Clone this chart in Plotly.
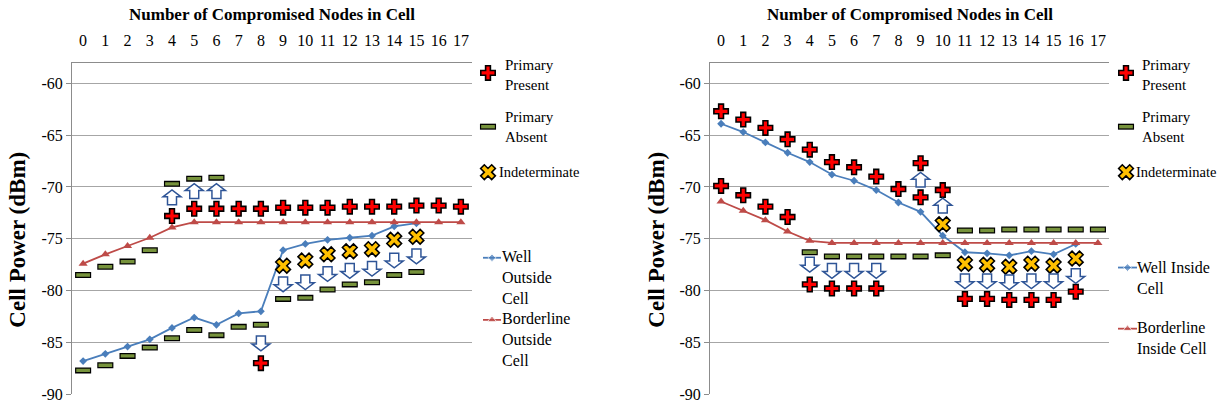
import plotly.graph_objects as go

# ---------------- data ----------------
categories = list(range(18))
tick_labels = [str(c) for c in categories]

# Left chart (outside cell)
left_well_x = [0, 1, 2, 3, 4, 5, 6, 7, 8, 9, 10, 11, 12, 13, 14, 15]
left_well_y = [-86.8, -86.1, -85.4, -84.7, -83.6, -82.6, -83.3, -82.2, -82.0,
               -76.1, -75.5, -75.1, -74.9, -74.7, -73.8, -73.5]
left_border_x = [0, 1, 2, 3, 4, 5, 6, 7, 8, 9, 10, 11, 12, 13, 14, 15, 16, 17]
left_border_y = [-77.4, -76.5, -75.7, -74.9, -73.9, -73.4, -73.4, -73.4, -73.4,
                 -73.4, -73.4, -73.4, -73.4, -73.4, -73.4, -73.4, -73.4, -73.4]
left_present_x = [4, 5, 6, 7, 8, 9, 10, 11, 12, 13, 14, 15, 16, 17, 8]
left_present_y = [-72.8, -72.1, -72.1, -72.1, -72.1, -72.0, -72.0, -72.0, -71.9,
                  -71.9, -71.9, -71.8, -71.8, -71.9, -87.0]
left_absent_x = [0, 1, 2, 3, 4, 5, 6, 0, 1, 2, 3, 4, 5, 6, 7, 8,
                 9, 10, 11, 12, 13, 14, 15]
left_absent_y = [-78.5, -77.7, -77.2, -76.1, -69.7, -69.2, -69.1,
                 -87.7, -87.2, -86.3, -85.5, -84.6, -83.8, -84.3, -83.5, -83.3,
                 -80.8, -80.7, -79.9, -79.4, -79.2, -78.5, -78.2]
left_indet_x = [9, 10, 11, 12, 13, 14, 15]
left_indet_y = [-77.6, -77.1, -76.5, -76.2, -76.0, -75.1, -74.8]
left_arrow_x = [4, 5, 6, 8, 9, 10, 11, 12, 13, 14, 15]
left_arrow_y = [-71.0, -70.4, -70.4, -85.1, -79.4, -79.2, -78.4, -78.1, -77.9, -77.1, -76.7]
left_arrow_dir = ["up", "up", "up", "down", "down", "down", "down", "down", "down", "down", "down"]

# Right chart (inside cell)
right_well_x = [0, 1, 2, 3, 4, 5, 6, 7, 8, 9, 10, 11, 12, 13, 14, 15, 16]
right_well_y = [-63.9, -64.7, -65.7, -66.7, -67.6, -68.8, -69.4, -70.3, -71.5,
                -72.4, -74.7, -76.3, -76.4, -76.6, -76.2, -76.5, -75.5]
right_border_x = [0, 1, 2, 3, 4, 5, 6, 7, 8, 9, 10, 11, 12, 13, 14, 15, 16, 17]
right_border_y = [-71.4, -72.3, -73.2, -74.3, -75.2, -75.4, -75.4, -75.4, -75.4,
                  -75.4, -75.4, -75.4, -75.4, -75.4, -75.4, -75.4, -75.4, -75.4]
right_present_x = [0, 1, 2, 3, 4, 5, 6, 7, 8, 9, 10, 9,
                   0, 1, 2, 3, 4, 5, 6, 7, 11, 12, 13, 14, 15, 16]
right_present_y = [-62.7, -63.5, -64.3, -65.4, -66.4, -67.6, -68.1, -69.0, -70.2,
                   -67.7, -70.3, -71.0,
                   -69.9, -70.8, -71.9, -72.9, -79.4, -79.8, -79.8, -79.8,
                   -80.8, -80.8, -80.9, -80.9, -80.9, -80.1]
right_absent_x = [4, 5, 6, 7, 8, 9, 10, 11, 12, 13, 14, 15, 16, 17]
right_absent_y = [-76.3, -76.7, -76.7, -76.7, -76.7, -76.7, -76.6,
                  -74.2, -74.2, -74.1, -74.1, -74.1, -74.1, -74.1]
right_indet_x = [10, 11, 12, 13, 14, 15, 16]
right_indet_y = [-73.6, -77.4, -77.5, -77.7, -77.4, -77.6, -76.9]
right_arrow_x = [9, 10, 4, 5, 6, 7, 11, 12, 13, 14, 15, 16]
right_arrow_y = [-69.3, -71.8, -77.5, -78.1, -78.1, -78.1, -79.1, -79.1, -79.2, -79.1, -79.1, -78.6]
right_arrow_dir = ["up", "up", "down", "down", "down", "down", "down", "down", "down", "down", "down", "down"]

# ---------------- style ----------------
W, H = 1228, 413
TOP, BOT = 64, 403
LX0, LX1 = 72, 472
RX0, RX1 = 710, 1109
Y_RANGE = [-90, -58]
X_RANGE = [-0.5, 17.5]
FONT = "Liberation Serif"
BLUE = "#4A7EBB"
RED_LINE = "#BE4B48"
CROSS_RED = "#FF0000"
GREEN = "#77933C"
YELLOW = "#FFC000"
ARROW_BLUE = "#2F5597"
GRID = "#A6A6A6"
AXIS = "#8C8C8C"

px_x = (LX1 - LX0) / (X_RANGE[1] - X_RANGE[0])
px_y = (BOT - TOP) / (Y_RANGE[1] - Y_RANGE[0])

fig = go.Figure()

DASH_OUT = dict(symbol="line-ew", size=11.5, line=dict(color="black", width=6))
DASH_IN = dict(symbol="line-ew", size=9.8, line=dict(color=GREEN, width=3.4))
CROSS = dict(symbol="cross", size=12, color=CROSS_RED, line=dict(color="black", width=1.6))
XMARK = dict(symbol="x", size=13, color=YELLOW, line=dict(color="black", width=1.6))


def chart(well_x, well_y, border_x, border_y, pres_x, pres_y, abs_x, abs_y,
          ind_x, ind_y, xa, ya):
    fig.add_trace(go.Scatter(x=well_x, y=well_y, mode="lines+markers", xaxis=xa, yaxis=ya,
                             line=dict(color=BLUE, width=1.8),
                             marker=dict(symbol="diamond", size=6, color=BLUE)))
    fig.add_trace(go.Scatter(x=border_x, y=border_y, mode="lines+markers", xaxis=xa, yaxis=ya,
                             line=dict(color=RED_LINE, width=1.8),
                             marker=dict(symbol="triangle-up", size=8, color=RED_LINE)))
    fig.add_trace(go.Scatter(x=abs_x, y=abs_y, mode="markers", xaxis=xa, yaxis=ya, marker=DASH_OUT))
    fig.add_trace(go.Scatter(x=abs_x, y=abs_y, mode="markers", xaxis=xa, yaxis=ya, marker=DASH_IN))
    fig.add_trace(go.Scatter(x=pres_x, y=pres_y, mode="markers", xaxis=xa, yaxis=ya, marker=CROSS))
    fig.add_trace(go.Scatter(x=ind_x, y=ind_y, mode="markers", xaxis=xa, yaxis=ya, marker=XMARK))


chart(left_well_x, left_well_y, left_border_x, left_border_y, left_present_x, left_present_y,
      left_absent_x, left_absent_y, left_indet_x, left_indet_y, "x", "y")
chart(right_well_x, right_well_y, right_border_x, right_border_y, right_present_x, right_present_y,
      right_absent_x, right_absent_y, right_indet_x, right_indet_y, "x2", "y2")


# block arrows (sizes in pixels converted to data units)
def arrow_path(cx, cy, direction):
    w = 18 / px_x / 2
    sw = 9 / px_x / 2
    hh = 15 / px_y / 2
    head = 7 / px_y
    s = 1 if direction == "up" else -1
    tip = cy + s * hh
    base = tip - s * head
    bot = cy - s * hh
    pts = [(cx - sw, bot), (cx - sw, base), (cx - w, base), (cx, tip),
           (cx + w, base), (cx + sw, base), (cx + sw, bot)]
    return "M " + " L ".join(f"{px:.4f},{py:.4f}" for px, py in pts) + " Z"


shapes = []
for xs, ys, ds, xr, yr in [(left_arrow_x, left_arrow_y, left_arrow_dir, "x", "y"),
                           (right_arrow_x, right_arrow_y, right_arrow_dir, "x2", "y2")]:
    for cx, cy, d in zip(xs, ys, ds):
        shapes.append(dict(type="path", path=arrow_path(cx, cy, d), xref=xr, yref=yr,
                           fillcolor="white", line=dict(color=ARROW_BLUE, width=1.5),
                           layer="above"))

# ---------------- custom legends (pixel-coordinate overlay axes) ----------------
leg_marker_x = {"L": 488, "R": 1126}
for side in ["L", "R"]:
    mx = leg_marker_x[side]
    fig.add_trace(go.Scatter(x=[mx], y=[74.5], mode="markers", xaxis="x3", yaxis="y3", marker=CROSS))
    fig.add_trace(go.Scatter(x=[mx], y=[129.5], mode="markers", xaxis="x3", yaxis="y3", marker=DASH_OUT))
    fig.add_trace(go.Scatter(x=[mx], y=[129.5], mode="markers", xaxis="x3", yaxis="y3", marker=DASH_IN))
    fig.add_trace(go.Scatter(x=[mx], y=[176], mode="markers", xaxis="x3", yaxis="y3", marker=XMARK))

leg_lines = [
    (483, 501, 263.5, BLUE, "diamond", 6),
    (483, 501, 327, RED_LINE, "triangle-up", 8),
    (1118, 1137, 273.5, BLUE, "diamond", 6),
    (1118, 1137, 336, RED_LINE, "triangle-up", 8),
]
for x0, x1, yy, col, sym, sz in leg_lines:
    fig.add_trace(go.Scatter(x=[x0, (x0 + x1) / 2, x1], y=[yy, yy, yy], mode="lines+markers",
                             xaxis="x3", yaxis="y3", line=dict(color=col, width=1.8),
                             marker=dict(symbol=sym, size=[0, sz, 0], color=col)))

annotations = []
leg_texts = [
    (503, 77, "Primary<br>Present", 15),
    (503, 130, "Primary<br>Absent", 15),
    (497, 176, "Indeterminate", 14.5),
    (500, 284, "Well<br>Outside<br>Cell", 16),
    (500, 347, "Borderline<br>Outside<br>Cell", 16),
    (1140, 77, "Primary<br>Present", 15),
    (1140, 130, "Primary<br>Absent", 15),
    (1134, 176, "Indeterminate", 14.5),
    (1135, 284, "Well Inside<br>Cell", 16),
    (1135, 346, "Borderline<br>Inside Cell", 16),
]
for tx, ty, txt, fs in leg_texts:
    annotations.append(dict(x=tx, y=ty, xref="x3", yref="y3", text=txt, showarrow=False,
                            xanchor="left", yanchor="middle", align="left",
                            font=dict(family=FONT, size=fs, color="black")))

# titles
for cx in [(LX0 + LX1) / 2, (RX0 + RX1) / 2]:
    annotations.append(dict(x=cx / W, y=1 - 15 / H, xref="paper", yref="paper",
                            text="<b>Number of Compromised Nodes in Cell</b>", showarrow=False,
                            xanchor="center", yanchor="middle",
                            font=dict(family=FONT, size=17, color="black")))
for cx in [18, 657]:
    annotations.append(dict(x=cx / W, y=1 - 245 / H, xref="paper", yref="paper",
                            text="<b>Cell Power (dBm)</b>", showarrow=False, textangle=-90,
                            xanchor="center", yanchor="middle",
                            font=dict(family=FONT, size=23, color="black")))

ydom = [1 - BOT / H, 1 - TOP / H]
xaxis_common = dict(range=X_RANGE, side="top", tickmode="array", tickvals=categories,
                    ticktext=tick_labels, showgrid=False, zeroline=False, showline=True,
                    linecolor=AXIS, linewidth=1, ticks="", ticklabelstandoff=9,
                    tickfont=dict(family=FONT, size=16, color="black"), fixedrange=True)
yaxis_common = dict(range=Y_RANGE, tickvals=[-90, -85, -80, -75, -70, -65, -60],
                    ticktext=["-90", "-85", "-80", "-75", "-70", "-65", "-60"],
                    showgrid=True, gridcolor=GRID, gridwidth=1, zeroline=False,
                    showline=True, linecolor=AXIS, linewidth=1, ticks="outside",
                    ticklen=5, tickcolor=AXIS,
                    tickfont=dict(family=FONT, size=16, color="black"), fixedrange=True)

fig.update_layout(
    width=W, height=H, margin=dict(l=0, r=0, t=0, b=0),
    font=dict(family=FONT),
    paper_bgcolor="white", plot_bgcolor="rgba(0,0,0,0)", showlegend=False,
    xaxis=dict(domain=[LX0 / W, LX1 / W], anchor="y", **xaxis_common),
    yaxis=dict(domain=ydom, anchor="x", **yaxis_common),
    xaxis2=dict(domain=[RX0 / W, RX1 / W], anchor="y2", **xaxis_common),
    yaxis2=dict(domain=ydom, anchor="x2", **yaxis_common),
    xaxis3=dict(domain=[0, 1], range=[0, W], visible=False, anchor="y3", fixedrange=True),
    yaxis3=dict(domain=[0, 1], range=[H, 0], visible=False, anchor="x3", fixedrange=True),
    shapes=shapes, annotations=annotations,
)

fig.write_html("out.html", config={"displayModeBar": False},
               post_script="document.body.style.margin='0';")
